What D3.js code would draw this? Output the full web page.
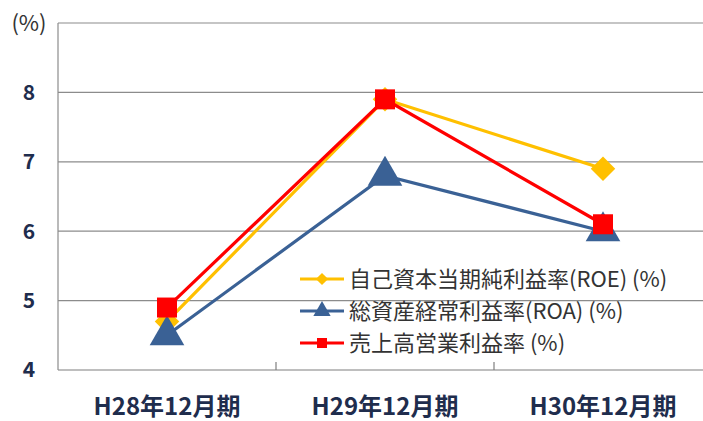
<!DOCTYPE html>
<html>
<head>
<meta charset="utf-8">
<script src="https://cdn.jsdelivr.net/npm/d3@7"></script>
<style>
  body { margin: 0; background: #fff; }
  svg { display: block; font-family: "Noto Sans CJK JP", "Open Sans", sans-serif; }
</style>
</head>
<body>
<div class="chart"></div>
<script>
var svgWidth = 703;
var svgHeight = 421;

// data
var categories = ["H28年12月期", "H29年12月期", "H30年12月期"];
var seriesNames = ["自己資本当期純利益率(ROE) (%)", "総資産経常利益率(ROA) (%)", "売上高営業利益率 (%)"];
var roeValues = [4.7, 7.9, 6.9];
var roaValues = [4.5, 6.8, 6.0];
var salesValues = [4.9, 7.9, 6.1];
var yTicks = [4, 5, 6, 7, 8];

var colors = ["#ffc000", "#3a6195", "#ff0000"];
// diamond = square turned 45 degrees
var markers = [d3.symbolSquare, d3.symbolTriangle, d3.symbolSquare];
var rotations = [45, 0, 0];
var markerSizes = [300, 520, 400];

var series = [roeValues, roaValues, salesValues].map(function(vals, i) {
  return { name: seriesNames[i], values: vals, color: colors[i], symbol: markers[i], size: markerSizes[i], rot: rotations[i] };
});

var plot = { left: 58, right: 712, top: 23, bottom: 370 };

var svg = d3.select(".chart")
  .append("svg")
  .attr("width", svgWidth)
  .attr("height", svgHeight);

var x = d3.scaleBand()
  .domain(categories)
  .range([plot.left, plot.right]);

var y = d3.scaleLinear()
  .domain([4, 9])
  .range([plot.bottom, plot.top]);

// gridlines
svg.append("g")
  .selectAll("line")
  .data(yTicks.concat([9]))
  .enter()
  .append("line")
  .attr("x1", plot.left)
  .attr("x2", plot.right)
  .attr("y1", d => y(d))
  .attr("y2", d => y(d))
  .attr("stroke", d => d === 4 ? "#7f7f7f" : "#8c8c8c")
  .attr("stroke-width", 1.2);

// left axis line
svg.append("line")
  .attr("x1", plot.left).attr("x2", plot.left)
  .attr("y1", plot.top).attr("y2", plot.bottom)
  .attr("stroke", "#8c8c8c")
  .attr("stroke-width", 1.2);

// y tick labels
svg.append("g")
  .selectAll("text")
  .data(yTicks)
  .enter()
  .append("text")
  .attr("x", 29)
  .attr("y", d => y(d))
  .attr("dy", "0.35em")
  .attr("text-anchor", "middle")
  .attr("font-size", 21)
  .attr("font-weight", "bold")
  .attr("fill", "#1f2d4d")
  .text(d => d);

svg.append("text")
  .attr("x", 29)
  .attr("y", 31)
  .attr("text-anchor", "middle")
  .attr("font-size", 22)
  .attr("fill", "#333")
  .text("(%)");

// category tick marks between bands
svg.append("g")
  .selectAll("line")
  .data(categories.slice(1))
  .enter()
  .append("line")
  .attr("x1", d => x(d))
  .attr("x2", d => x(d))
  .attr("y1", plot.bottom)
  .attr("y2", plot.bottom - 8)
  .attr("stroke", "#7f7f7f")
  .attr("stroke-width", 1.2);

// category labels
svg.append("g")
  .selectAll("text")
  .data(categories)
  .enter()
  .append("text")
  .attr("x", d => x(d) + x.bandwidth() / 2)
  .attr("y", 415)
  .attr("text-anchor", "middle")
  .attr("font-size", 24)
  .attr("font-weight", "bold")
  .attr("fill", "#1f2d4d")
  .text(d => d);

var line = d3.line()
  .x((d, i) => x(categories[i]) + x.bandwidth() / 2)
  .y(d => y(d));

series.forEach(function(s) {
  var g = svg.append("g");
  g.append("path")
    .datum(s.values)
    .attr("d", line)
    .attr("fill", "none")
    .attr("stroke", s.color)
    .attr("stroke-width", 3.2);
  g.selectAll("path.marker")
    .data(s.values)
    .enter()
    .append("path")
    .attr("class", "marker")
    .attr("d", d3.symbol().type(s.symbol).size(s.size))
    .attr("transform", (d, i) => `translate(${x(categories[i]) + x.bandwidth() / 2}, ${y(d)}) rotate(${s.rot})`)
    .attr("fill", s.color);
});

// legend
var legend = svg.append("g")
  .selectAll("g")
  .data(series)
  .enter()
  .append("g")
  .attr("transform", (d, i) => `translate(300, ${279 + i * 32})`);

legend.append("line")
  .attr("x1", 0).attr("x2", 44)
  .attr("stroke", d => d.color)
  .attr("stroke-width", 3.2);

legend.append("path")
  .attr("d", d => d3.symbol().type(d.symbol).size(d.size / 4)())
  .attr("transform", d => `translate(22,0) rotate(${d.rot})`)
  .attr("fill", d => d.color);

legend.append("text")
  .attr("x", 49)
  .attr("dy", "0.35em")
  .attr("font-size", 22)
  .attr("fill", "#333")
  .text(d => d.name);
</script>
</body>
</html>
